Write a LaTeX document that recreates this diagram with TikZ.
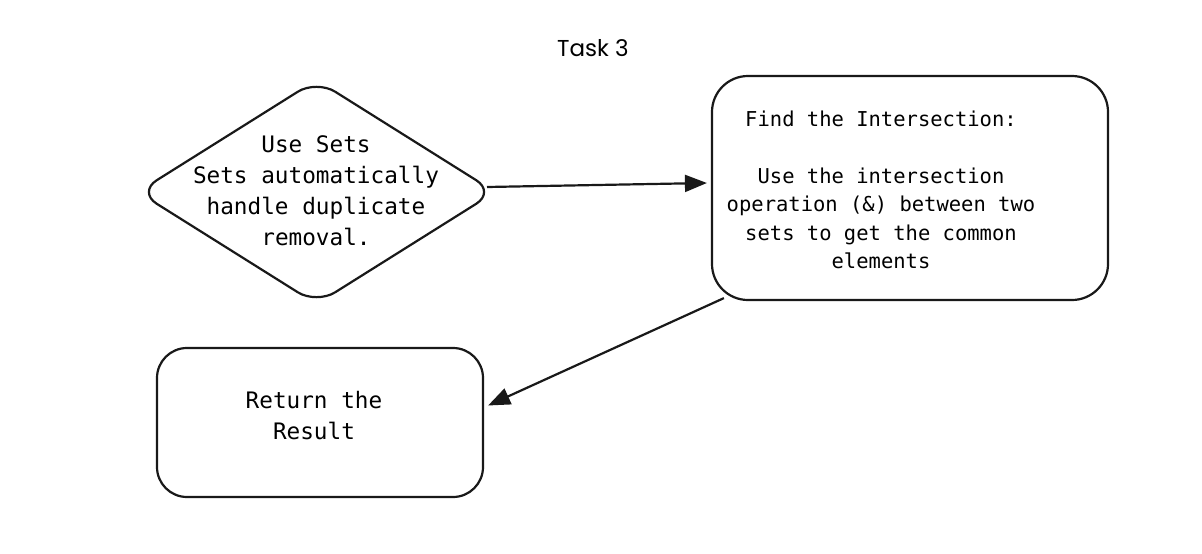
\documentclass[tikz,border=0pt]{standalone}
\usepackage{fontspec}
\setmonofont{DejaVu Sans Mono}
\newfontfamily\titlefont{Poppins}
\usetikzlibrary{shapes.geometric,arrows.meta}
\tikzset{
  shp/.style={draw=black!90, line width=2.2pt, fill=white},
  bigtxt/.style={font=\ttfamily\fontsize{22.7}{31}\selectfont, align=center, inner sep=0pt},
  smalltxt/.style={font=\ttfamily\fontsize{20.5}{28.5}\selectfont, align=center, inner sep=0pt},
  arr/.style={draw=black!90, line width=2.2pt, -{Triangle[length=22pt,width=17pt]}, shorten >=0pt}
}
\begin{document}
\begin{tikzpicture}[x=1pt,y=-1pt]
\useasboundingbox[fill=white] (0,0) rectangle (1202,554);
\node[font=\titlefont\fontsize{23}{27}\selectfont] (title) at (593,48) {Task 3};
% diamond
\node[shp, diamond, minimum width=357pt, minimum height=224pt, inner sep=0pt, outer sep=0pt, rounded corners=22pt] (d) at (316.5,192) {};
\node[bigtxt] (dt) at (316,191) {Use Sets\\Sets automatically\\handle duplicate\\removal.};
% right box
\node[shp, rectangle, minimum width=396pt, minimum height=224pt, inner sep=0pt, rounded corners=36pt] (b2) at (910,188) {};
\node[smalltxt] (b2t) at (881,190) {Find the Intersection:\\[28.5pt]Use the intersection\\operation (\&) between two\\sets to get the common\\elements};
% bottom box
\node[shp, rectangle, minimum width=326pt, minimum height=149pt, inner sep=0pt, rounded corners=30pt] (b3) at (320,422.5) {};
\node[bigtxt] (b3t) at (314,416) {Return the\\Result};
% arrows
\draw[arr] ([xshift=-8pt,yshift=5pt]d.east) -- ([xshift=-4pt,yshift=5pt]b2.west);
\draw[arr] ([xshift=13pt,yshift=3pt]b2.south west) -- ([xshift=4pt,yshift=17pt]b3.east);
\end{tikzpicture}
\end{document}
